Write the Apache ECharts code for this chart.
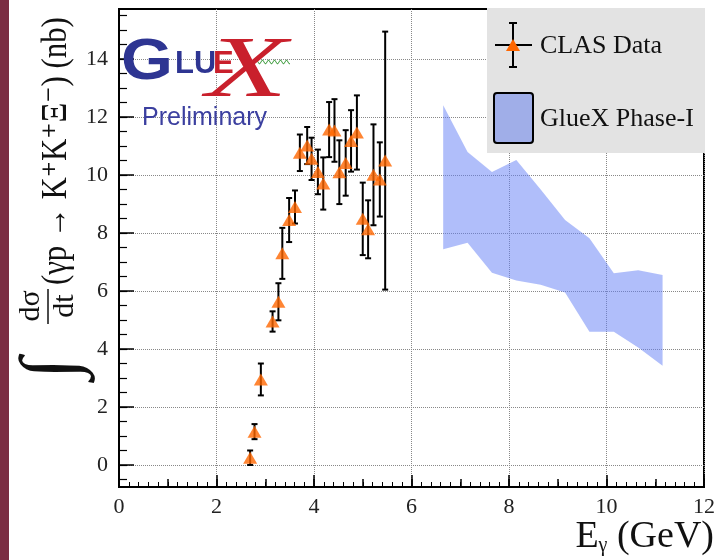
<!DOCTYPE html>
<html><head><meta charset="utf-8">
<script src="https://cdn.jsdelivr.net/npm/echarts@6/dist/echarts.min.js"></script>
<style>html,body{margin:0;padding:0;background:#fff}#c{width:718px;height:560px}</style>
</head><body><div id="c"></div>
<script>
// CLAS data: photon energy (GeV), cross section (nb), error (nb)
const clasE   = [2.69, 2.78, 2.91, 3.15, 3.27, 3.35, 3.49, 3.61, 3.71, 3.86, 3.95, 4.08, 4.19, 4.31, 4.42, 4.52, 4.65, 4.76, 4.88, 5.00, 5.11, 5.22, 5.35, 5.46];
const clasV   = [0.25, 1.15, 2.95, 4.95, 5.63, 7.30, 8.45, 8.90, 10.77, 11.02, 10.56, 10.11, 9.71, 11.57, 11.54, 10.10, 10.42, 11.18, 11.47, 8.49, 8.13, 10.01, 9.85, 10.50];
const clasErr = [0.25, 0.26, 0.55, 0.35, 0.64, 0.88, 0.76, 0.57, 0.63, 0.64, 0.73, 0.77, 0.90, 0.95, 1.08, 1.10, 1.13, 1.06, 1.28, 1.25, 1.00, 1.74, 1.28, 4.45];
// GlueX Phase-I projection band
const bandE  = [6.65, 7.15, 7.65, 8.15, 8.65, 9.15, 9.65, 10.15, 10.65, 11.15];
const bandHi = [12.41, 10.80, 10.11, 10.52, 9.50, 8.45, 7.82, 6.61, 6.72, 6.55];
const bandLo = [7.44, 7.67, 6.63, 6.36, 6.22, 5.95, 4.60, 4.60, 4.05, 3.42];
// tick labels
const xTicks = [0, 2, 4, 6, 8, 10, 12];
const yTicks = [0, 2, 4, 6, 8, 10, 12, 14];
const legendNames = ['CLAS Data', 'GlueX Phase-I'];

const SERIF = '"Liberation Serif","DejaVu Serif",serif';
const SANS = '"Liberation Sans",Arial,sans-serif';
const yMinor = [];
for (let v = -0.5; v <= 15.5; v += 0.5) yMinor.push(v);

const chart = echarts.init(document.getElementById('c'), null, {renderer: 'canvas'});

const band = bandE.map((e, i) => [e, bandLo[i], bandHi[i]]);
const errs = clasE.map((e, i) => [e, clasV[i], clasErr[i]]);
const pts = clasE.map((e, i) => [e, clasV[i]]);

const wave = [];
for (let i = 0; i <= 38; i++) wave.push([252 + i, 62 + 2 * Math.sin(i * Math.PI / 3)]);

const option = {
  animation: false,
  backgroundColor: '#fff',
  grid: {left: 119, right: 11, top: 9, bottom: 73, show: true, borderColor: '#000', borderWidth: 2, backgroundColor: 'transparent'},
  xAxis: [{
    type: 'value', min: 0, max: 12, interval: 2,
    axisLine: {show: true, onZero: false, lineStyle: {color: '#000', width: 2}},
    axisTick: {show: true, inside: true, length: 12, customValues: xTicks, lineStyle: {color: '#000', width: 1.5}},
    minorTick: {show: true, splitNumber: 10, length: 5, lineStyle: {color: '#000', width: 1}},
    axisLabel: {fontFamily: SERIF, fontSize: 22, color: '#222', margin: 9, customValues: xTicks},
    splitLine: {show: true, lineStyle: {color: '#888', type: 'dotted', width: 1}}
  }, {
    type: 'value', min: 0, max: 12, interval: 1, position: 'bottom',
    axisLine: {show: false, onZero: false}, axisLabel: {show: false}, splitLine: {show: false},
    axisTick: {show: true, inside: true, length: 8, lineStyle: {color: '#000', width: 1.5}}
  }],
  yAxis: [{
    type: 'value', min: -0.76, max: 15.73,
    axisLine: {show: true, onZero: false, lineStyle: {color: '#000', width: 2}},
    axisTick: {show: true, inside: true, length: 15, customValues: yTicks, lineStyle: {color: '#000', width: 1.5}},
    axisLabel: {fontFamily: SERIF, fontSize: 22, color: '#222', margin: 11, customValues: yTicks},
    splitLine: {show: true, lineStyle: {color: '#888', type: 'dotted', width: 1}}
  }, {
    type: 'value', min: -0.76, max: 15.73, position: 'left',
    axisLine: {show: false, onZero: false}, axisLabel: {show: false}, splitLine: {show: false},
    axisTick: {show: true, inside: true, length: 8, customValues: yMinor, lineStyle: {color: '#000', width: 1.2}}
  }],
  series: [{
    type: 'custom', name: legendNames[1], data: band, z: 3,
    renderItem: function (params, api) {
      if (params.dataIndex !== 0) return null;
      const top = band.map(d => api.coord([d[0], d[2]]));
      const bot = band.map(d => api.coord([d[0], d[1]])).reverse();
      return {type: 'polygon', shape: {points: top.concat(bot)}, style: {fill: 'rgba(97,125,245,0.5)', stroke: null}};
    }
  }, {
    type: 'custom', name: legendNames[0] + ' errors', data: errs, z: 4,
    renderItem: function (params, api) {
      const x = api.value(0), y = api.value(1), e = api.value(2);
      const a = api.coord([x, y + e]), b = api.coord([x, y - e]);
      const st = {stroke: '#000', lineWidth: 2};
      return {type: 'group', children: [
        {type: 'line', shape: {x1: a[0], y1: a[1], x2: b[0], y2: b[1]}, style: st},
        {type: 'line', shape: {x1: a[0] - 3, y1: a[1], x2: a[0] + 3, y2: a[1]}, style: st},
        {type: 'line', shape: {x1: b[0] - 3, y1: b[1], x2: b[0] + 3, y2: b[1]}, style: st}
      ]};
    }
  }, {
    type: 'scatter', name: legendNames[0], data: pts, z: 5,
    symbol: 'triangle', symbolSize: [14, 12], itemStyle: {color: '#ff6600'}
  }],
  graphic: [
    {type: 'rect', shape: {x: 0, y: 0, width: 9, height: 560}, style: {fill: '#7b2d42'}, z: 50},
    // legend
    {type: 'rect', shape: {x: 487, y: 8, width: 218, height: 145}, style: {fill: '#e3e3e3'}, z: 100},
    {type: 'line', shape: {x1: 495, y1: 45, x2: 532, y2: 45}, style: {stroke: '#000', lineWidth: 2}, z: 101},
    {type: 'line', shape: {x1: 513, y1: 23, x2: 513, y2: 67}, style: {stroke: '#000', lineWidth: 2}, z: 101},
    {type: 'line', shape: {x1: 509, y1: 23, x2: 517, y2: 23}, style: {stroke: '#000', lineWidth: 2}, z: 101},
    {type: 'line', shape: {x1: 509, y1: 67, x2: 517, y2: 67}, style: {stroke: '#000', lineWidth: 2}, z: 101},
    {type: 'polygon', shape: {points: [[513, 39], [520, 51], [506, 51]]}, style: {fill: '#ff6600'}, z: 102},
    {type: 'text', x: 540, y: 46, style: {text: legendNames[0], font: '26px ' + SERIF, fill: '#111', verticalAlign: 'middle'}, z: 101},
    {type: 'rect', shape: {x: 494, y: 93, width: 39, height: 50, r: 3}, style: {fill: '#a0aee8', stroke: '#000', lineWidth: 2}, z: 101},
    {type: 'text', x: 540, y: 119, style: {text: legendNames[1], font: '26px ' + SERIF, fill: '#111', verticalAlign: 'middle'}, z: 101},
    // GlueX logo
    {type: 'text', x: 121, y: 92, scaleX: 1.15, style: {text: 'G', font: 'bold 58px ' + SANS, fill: '#2e3592', verticalAlign: 'bottom'}, z: 60},
    {type: 'text', x: 175, y: 80, style: {text: 'LU', font: 'bold 31px ' + SANS, fill: '#2e3592', verticalAlign: 'bottom'}, z: 62},
    {type: 'text', x: 213, y: 80, style: {text: 'E', font: 'bold 31px ' + SANS, fill: '#c9202c', verticalAlign: 'bottom', stroke: '#fff', lineWidth: 1}, z: 62},
    {type: 'text', x: 206, y: 116, scaleX: 1.55, style: {text: 'X', font: 'italic 86px ' + SERIF, fill: '#c9202c', verticalAlign: 'bottom'}, z: 61},
    {type: 'polyline', shape: {points: wave}, style: {stroke: '#3a9a3a', lineWidth: 1, fill: null}, z: 60},
    {type: 'text', x: 142, y: 118, style: {text: 'Preliminary', font: '25px ' + SANS, fill: '#3b3f9f', verticalAlign: 'middle'}, z: 60},
    // y-axis title (rotated)
    {type: 'text', x: 54, y: 368, rotation: Math.PI / 2, style: {text: '∫', font: '78px ' + SERIF, fill: '#111', align: 'center', verticalAlign: 'middle'}, z: 60},
    {type: 'text', x: 46, y: 306, rotation: Math.PI / 2, style: {text: 'dσ', font: '30px ' + SERIF, fill: '#111', align: 'center', verticalAlign: 'bottom'}, z: 60},
    {type: 'line', shape: {x1: 48, y1: 289, x2: 48, y2: 324}, style: {stroke: '#111', lineWidth: 1.5}, z: 60},
    {type: 'text', x: 50, y: 306, rotation: Math.PI / 2, style: {text: 'dt', font: '30px ' + SERIF, fill: '#111', align: 'center', verticalAlign: 'top'}, z: 60},
    {type: 'text', x: 74, y: 285, rotation: Math.PI / 2, scaleX: 0.88, style: {text: '(γp → K⁺K⁺Ξ⁻) (nb)', font: '35px ' + SERIF, fill: '#111', align: 'left', verticalAlign: 'bottom'}, z: 60},
    // x-axis title
    {type: 'text', x: 714, y: 556, style: {
      text: '{e|E}{g|γ}{e| (GeV)}', align: 'right', verticalAlign: 'bottom',
      rich: {e: {font: '38px ' + SERIF, fill: '#111', verticalAlign: 'bottom'}, g: {font: '20px ' + SERIF, fill: '#111', verticalAlign: 'bottom'}}
    }, z: 60}
  ]
};
chart.setOption(option);
</script>
</body></html>
